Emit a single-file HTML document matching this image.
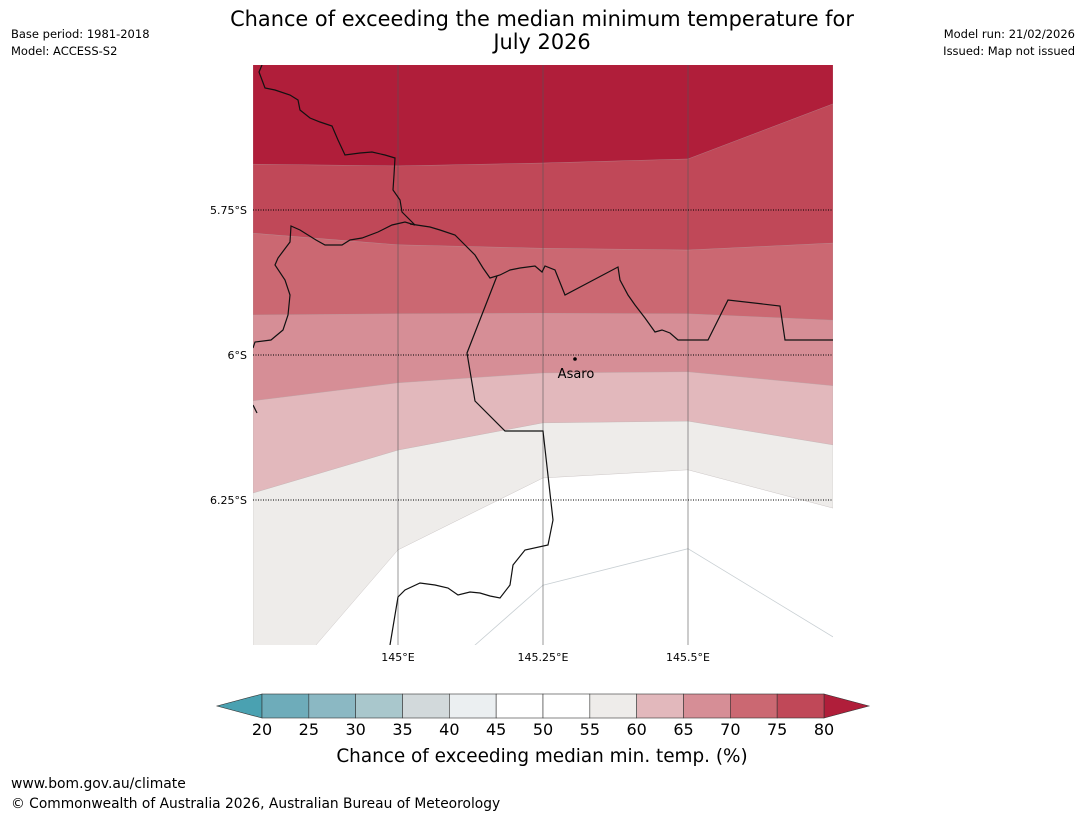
<!DOCTYPE html>
<html><head><meta charset="utf-8">
<style>
html,body{margin:0;padding:0;background:#fff;width:1085px;height:816px;overflow:hidden;font-family:"Liberation Sans","DejaVu Sans",sans-serif;}
svg{display:block;position:absolute;left:0;top:0;}
svg text{font-family:"DejaVu Sans","Liberation Sans",sans-serif;}
</style></head>
<body>
<svg id="chart" width="1085" height="816" viewBox="0 0 1085 816">
<text x="542" y="26" font-size="20.9" text-anchor="middle">Chance of exceeding the median minimum temperature for</text>
<text x="542" y="49" font-size="20.9" text-anchor="middle">July 2026</text>
<text x="11" y="38" font-size="11.5">Base period: 1981-2018</text>
<text x="11" y="55" font-size="11.5">Model: ACCESS-S2</text>
<text x="1075" y="38" font-size="11.5" text-anchor="end">Model run: 21/02/2026</text>
<text x="1075" y="55" font-size="11.5" text-anchor="end">Issued: Map not issued</text>
<defs><clipPath id="mapclip"><rect x="253" y="65" width="580" height="580"/></clipPath></defs>
<g id="map" clip-path="url(#mapclip)"></g>
<g id="cbar"></g>
<text x="542" y="762" font-size="18.4" text-anchor="middle">Chance of exceeding median min. temp. (%)</text>
<text x="11" y="788" font-size="13.9">www.bom.gov.au/climate</text>
<text x="11" y="808" font-size="13.8">© Commonwealth of Australia 2026, Australian Bureau of Meteorology</text>
</svg>
<script>
// Map data
const lonNodes = [144.75, 145, 145.25, 145.5, 145.75];
const thresholds = [55, 60, 65, 70, 75, 80];
const boundaryLats = [
  [6.626, 6.336, 6.212, 6.198, 6.264],
  [6.238, 6.164, 6.117, 6.114, 6.155],
  [6.079, 6.048, 6.031, 6.029, 6.053],
  [5.931, 5.929, 5.928, 5.929, 5.940],
  [5.790, 5.810, 5.816, 5.819, 5.807],
  [5.671, 5.674, 5.669, 5.662, 5.567]
];
const line50Lats = [6.9, 6.617, 6.397, 6.334, 6.486];
const lonTicks = [145, 145.25, 145.5];
const lonTickLabels = ["145°E", "145.25°E", "145.5°E"];
const latTicks = [5.75, 6, 6.25];
const latTickLabels = ["5.75°S", "6°S", "6.25°S"];
const cbarLevels = [20,25,30,35,40,45,50,55,60,65,70,75,80];
const cbarColors = ["#6eacba","#8bb8c3","#a9c7cc","#d2d9db","#ebeff1","#ffffff","#ffffff","#eeecea","#e2b8bc","#d68e96","#cb6872","#c04858"];
const bandColors = ["#eeecea","#e2b8bc","#d68e96","#cb6872","#c04858","#b01e3a"];

const NS="http://www.w3.org/2000/svg";
const X0=253,X1=833,Y0=65,Y1=645,LON0=144.75,LON1=145.75,LAT0=5.5,LAT1=6.5;
const xs=l=>X0+(l-LON0)/(LON1-LON0)*(X1-X0);
const ys=l=>Y0+(l-LAT0)/(LAT1-LAT0)*(Y1-Y0);
function mk(tag,attrs,parent){const e=document.createElementNS(NS,tag);for(const k in attrs)e.setAttribute(k,attrs[k]);parent.appendChild(e);return e;}
const map=document.getElementById('map');
const bg=mk('rect',{x:X0,y:Y0,width:580,height:580,fill:'#fff'},map);


thresholds.forEach((t,i)=>{
  let d=`M${X0},${Y0-5} L${X1},${Y0-5} `;
  for(let j=lonNodes.length-1;j>=0;j--) d+=`L${xs(lonNodes[j])},${ys(boundaryLats[i][j])} `;
  d+='Z';
  const p=mk('path',{d:d,fill:bandColors[i],stroke:'#b0a8a8','stroke-width':0.3},map);
  
  
});
let d50='';lonNodes.forEach((l,j)=>{d50+=(j?'L':'M')+xs(l)+','+ys(line50Lats[j])+' ';});
const l50=mk('path',{d:d50,fill:'none',stroke:'#c8cfd3','stroke-width':0.8},map);


lonTicks.forEach((l,i)=>{
  const g=mk('line',{x1:xs(l),x2:xs(l),y1:Y0,y2:Y1,stroke:'#555','stroke-width':1,'stroke-opacity':0.6},map);
  
  
});
latTicks.forEach((l,i)=>{
  const g=mk('line',{x1:X0,x2:X1,y1:ys(l),y2:ys(l),stroke:'#000','stroke-width':1,'stroke-dasharray':'1,1.5'},map);
  
  
});
const borders=[
"262,65 259,72 265,88 275,90 290,95 298,100 300,110 310,118 320,122 332,126 338,140 345,155 360,153 372,152 385,155 395,158 394,175 393,190 400,200 402,212 410,220 415,225 405,222 392,225 378,232 362,238 350,240 342,245 325,245 316,240 300,230 291,226 290,242 278,258 275,265 285,280 290,295 288,315 283,330 271,340 255,342 253,348",
"410,224 430,227 440,230 455,235 465,245 475,255 483,268 490,278 500,275 510,270 520,268 535,266 542,272 545,266 555,270 565,295 618,267 620,280 628,295 635,305 645,318 655,332 662,330 670,333 678,340 708,340 728,300 780,306 785,340 833,340",
"497,276 467,353 475,401 505,431 543,431 553,520 548,545 525,550 513,565 510,585 500,598 490,596 480,593 470,592 458,595 448,588 435,585 420,583 405,590 398,597 390,645",
"253,405 257,413"];
borders.forEach(pts=>{
  const b=mk('polyline',{points:pts,fill:'none',stroke:'#111','stroke-width':1.2},map);
  
  
});
const svg=document.getElementById('chart');
const dot=mk('circle',{cx:575,cy:359,r:1.8,fill:'#000'},svg);


const asl=mk('text',{x:576,y:378,'font-size':13,'text-anchor':'middle'},svg);asl.textContent='Asaro';


lonTicks.forEach((l,i)=>{
  const t=mk('text',{x:xs(l),y:661,'font-size':11,'text-anchor':'middle'},svg);t.textContent=lonTickLabels[i];
  
  
});
latTicks.forEach((l,i)=>{
  const t=mk('text',{x:247,y:ys(l)+4,'font-size':11,'text-anchor':'end'},svg);t.textContent=latTickLabels[i];
  
  
});
const cb=document.getElementById('cbar');
const CX0=262,CX1=824,CY=694,CH=24;
const cx=v=>CX0+(v-cbarLevels[0])/(cbarLevels[cbarLevels.length-1]-cbarLevels[0])*(CX1-CX0);
const le=mk('polygon',{points:`${CX0},${CY} ${CX0},${CY+CH} 217,${CY+CH/2}`,fill:'#4aa1b1',stroke:'#333','stroke-width':0.6},cb);


const re=mk('polygon',{points:`${CX1},${CY} ${CX1},${CY+CH} 869,${CY+CH/2}`,fill:'#b01e3a',stroke:'#333','stroke-width':0.6},cb);


cbarColors.forEach((c,i)=>{
  const r=mk('rect',{x:cx(cbarLevels[i]),y:CY,width:cx(cbarLevels[i+1])-cx(cbarLevels[i]),height:CH,fill:c,stroke:'#333','stroke-width':0.6},cb);
  
  
});
cbarLevels.forEach(v=>{
  const t=mk('text',{x:cx(v),y:735,'font-size':16,'text-anchor':'middle'},cb);t.textContent=v;
  
  
});
</script>
</body></html>
